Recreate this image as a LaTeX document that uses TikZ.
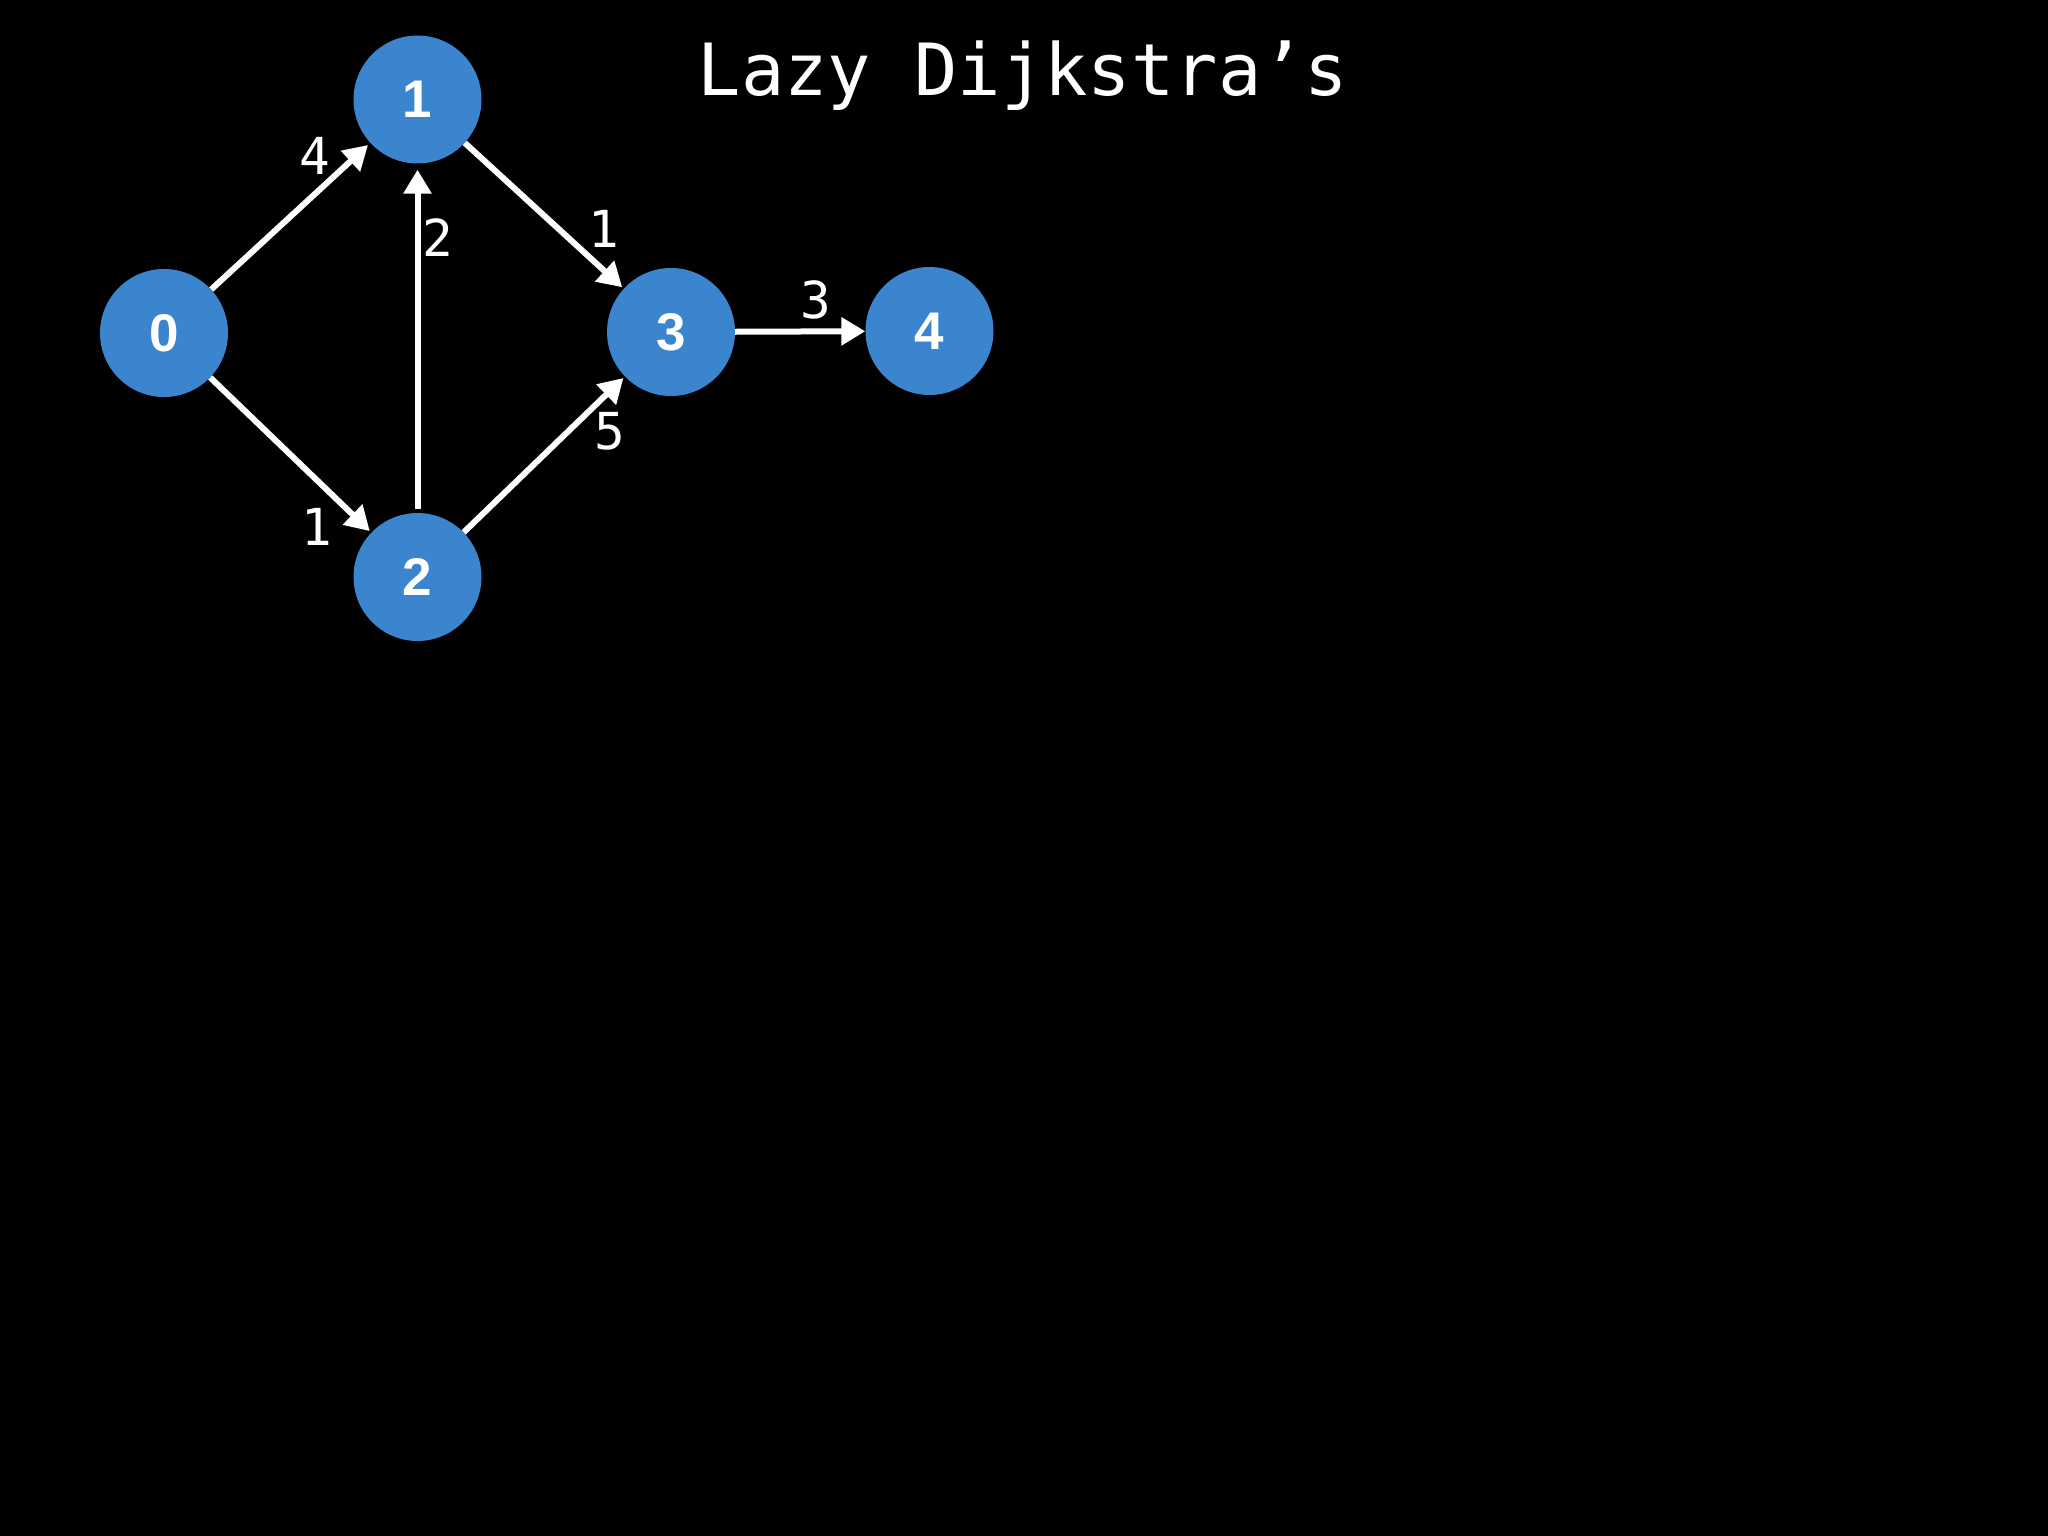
\documentclass[tikz,border=0pt]{standalone}
\usepackage{fontspec}
\usetikzlibrary{arrows.meta}
\setsansfont{Liberation Sans}
\newfontfamily\monofont{DejaVu Sans Mono}
\definecolor{nodeblue}{RGB}{59,132,206}
\begin{document}
\begin{tikzpicture}[x=1pt,y=-1pt,
  vert/.style={circle,fill=nodeblue,minimum size=128pt,inner sep=0pt,text=white,
    font=\fontsize{53}{53}\selectfont\sffamily\bfseries},
  edge/.style={draw=white,line width=6pt,-{Triangle[length=24pt,width=27pt]}},
  wlabel/.style={text=white,inner sep=0pt,font=\monofont\fontsize{51}{51}\selectfont},
  titlestyle/.style={text=white,inner sep=0pt,font=\monofont\fontsize{72}{72}\selectfont}]
\fill[black] (0,0) rectangle (2048,1536);
\useasboundingbox (0,0) rectangle (2048,1536);
\node[titlestyle,anchor=base] (title) at (1023,96) {Lazy Dijkstra’s};
\node[vert] (n0) at (164,333) {0};
\node[vert] (n1) at (417.5,99.5) {1};
\node[vert] (n2) at (417.5,577) {2};
\node[vert] (n3) at (671,332) {3};
\node[vert] (n4) at (929.5,331) {4};
\draw[edge,shorten >=3pt] (n0) -- (n1);
\draw[edge,shorten >=2pt] (n0) -- (n2);
\draw[edge,shorten <=4pt,shorten >=6pt] (n2) -- (n1);
\draw[edge,shorten >=2pt] (n1) -- (n3);
\draw[edge,shorten >=2pt] (n2) -- (n3);
\draw[edge] (n3) -- (n4);
\node[wlabel] (l01) at (314.5,156) {4};
\node[wlabel] (l21) at (438,238) {2};
\node[wlabel] (l13) at (604,229) {1};
\node[wlabel] (l02) at (317,527) {1};
\node[wlabel] (l23) at (610,431) {5};
\node[wlabel] (l34) at (816,300) {3};
\end{tikzpicture}
\end{document}
